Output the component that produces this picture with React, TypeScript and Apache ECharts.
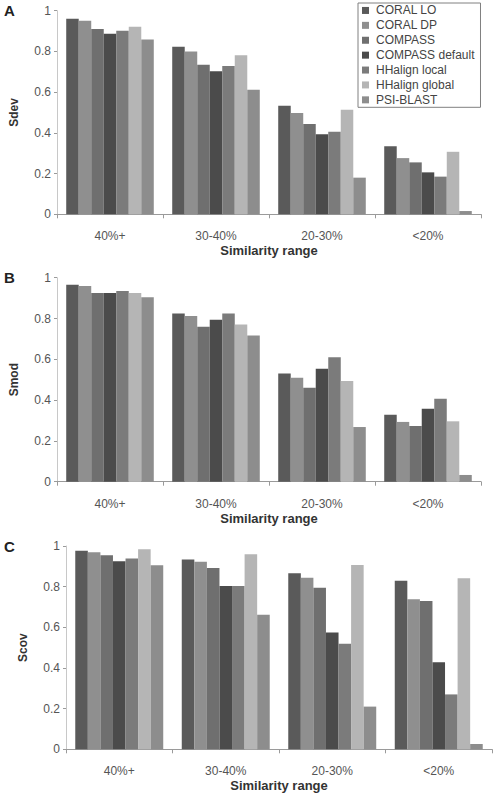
import React, { useEffect, useRef } from "react";
import * as echarts from "echarts";

const categories = ["40%+", "30-40%", "20-30%", "<20%"];
const methods = ["CORAL LO", "CORAL DP", "COMPASS", "COMPASS default", "HHalign local", "HHalign global", "PSI-BLAST"];
const methodColors = ["#5a5a5a", "#8f8f8f", "#6f6f6f", "#4b4b4b", "#7b7b7b", "#b5b5b5", "#8d8d8d"];
const yTicks = [0, 0.2, 0.4, 0.6, 0.8, 1];

// Panel A: Sdev
const sdevCoralLO = [0.961, 0.823, 0.533, 0.334];
const sdevCoralDP = [0.951, 0.799, 0.497, 0.276];
const sdevCompass = [0.91, 0.735, 0.443, 0.255];
const sdevCompassDefault = [0.887, 0.702, 0.393, 0.206];
const sdevHHLocal = [0.902, 0.728, 0.405, 0.185];
const sdevHHGlobal = [0.921, 0.781, 0.514, 0.307];
const sdevPsiBlast = [0.859, 0.612, 0.18, 0.016];

// Panel B: Smod
const smodCoralLO = [0.966, 0.825, 0.531, 0.328];
const smodCoralDP = [0.959, 0.812, 0.51, 0.293];
const smodCompass = [0.925, 0.76, 0.461, 0.273];
const smodCompassDefault = [0.925, 0.794, 0.554, 0.358];
const smodHHLocal = [0.935, 0.824, 0.61, 0.407];
const smodHHGlobal = [0.925, 0.771, 0.494, 0.296];
const smodPsiBlast = [0.904, 0.717, 0.268, 0.033];

// Panel C: Scov
const scovCoralLO = [0.977, 0.934, 0.866, 0.829];
const scovCoralDP = [0.969, 0.923, 0.844, 0.738];
const scovCompass = [0.954, 0.892, 0.795, 0.729];
const scovCompassDefault = [0.925, 0.803, 0.574, 0.428];
const scovHHLocal = [0.938, 0.803, 0.519, 0.27];
const scovHHGlobal = [0.984, 0.959, 0.907, 0.841];
const scovPsiBlast = [0.905, 0.662, 0.21, 0.026];

const panelNames = ["Sdev", "Smod", "Scov"];
const panelLetters = ["A", "B", "C"];
const panelData = [
  [sdevCoralLO, sdevCoralDP, sdevCompass, sdevCompassDefault, sdevHHLocal, sdevHHGlobal, sdevPsiBlast],
  [smodCoralLO, smodCoralDP, smodCompass, smodCompassDefault, smodHHLocal, smodHHGlobal, smodPsiBlast],
  [scovCoralLO, scovCoralDP, scovCompass, scovCompassDefault, scovHHLocal, scovHHGlobal, scovPsiBlast],
];

const FONT = "Liberation Sans";

export default function App() {
  const ref = useRef<HTMLDivElement>(null);
  useEffect(() => {
    if (!ref.current) return;
    const chart = echarts.init(ref.current, null, { renderer: "svg" });
    const grids = [
      { left: 55, top: 10.7, width: 426, height: 203.6 },
      { left: 55, top: 277.7, width: 426, height: 204 },
      { left: 66, top: 546, width: 426, height: 203.3 },
    ];
    const xAxis = grids.map((_, i) => ({
      type: "category",
      gridIndex: i,
      data: categories,
      name: "Similarity range",
      nameLocation: "middle",
      nameGap: 30,
      nameTextStyle: { fontFamily: FONT, fontWeight: "bold", fontSize: 13, color: "#333" },
      axisLine: { lineStyle: { color: "#9a9a9a", width: 1 } },
      axisTick: { show: true, length: 4, lineStyle: { color: "#9a9a9a" } },
      axisLabel: { fontFamily: FONT, fontSize: 12, color: "#555", margin: 16 },
      splitLine: { show: false },
    }));
    const yAxis = grids.map((_, i) => ({
      type: "value",
      gridIndex: i,
      min: 0,
      max: 1,
      interval: 0.2,
      name: panelNames[i],
      nameLocation: "middle",
      nameGap: 37,
      nameTextStyle: { fontFamily: FONT, fontWeight: "bold", fontSize: 12, color: "#333" },
      axisLine: { show: true, lineStyle: { color: "#c8c8c8", width: 1 } },
      axisTick: { show: true, length: 3, lineStyle: { color: "#9a9a9a" } },
      axisLabel: {
        fontFamily: FONT,
        fontSize: 12,
        color: "#555",
        margin: 6,
        formatter: (v: number) => (yTicks.includes(Math.round(v * 10) / 10) ? String(Math.round(v * 10) / 10) : ""),
      },
      splitLine: { show: false },
    }));
    const series: any[] = [];
    panelData.forEach((arrs, p) => {
      arrs.forEach((vals, m) => {
        series.push({
          type: "bar",
          name: methods[m],
          xAxisIndex: p,
          yAxisIndex: p,
          data: vals,
          barGap: "0%",
          barCategoryGap: "17.4%",
          itemStyle: { color: methodColors[m] },
          emphasis: { disabled: true },
        });
      });
    });
    chart.setOption({
      animation: false,
      backgroundColor: "#ffffff",
      grid: grids,
      xAxis,
      yAxis,
      series,
      legend: {
        data: methods,
        orient: "vertical",
        left: 358,
        top: 3,
        padding: [0, 6, 0, 4],
        itemGap: 0,
        itemWidth: 7,
        itemHeight: 7,
        icon: "rect",
        borderColor: "#808080",
        borderWidth: 1,
        selectedMode: false,
        textStyle: { fontFamily: FONT, fontSize: 12, color: "#444", lineHeight: 14.9, padding: [0, 0, 0, 2] },
      },
      graphic: panelLetters.map((t, i) => ({
        type: "text",
        left: 4,
        top: [3, 270, 539][i],
        style: { text: t, fontFamily: FONT, fontWeight: "bold", fontSize: 15, fill: "#222" },
      })),
    });
    return () => chart.dispose();
  }, []);
  return <div ref={ref} style={{ position: "absolute", left: 0, top: 0, width: 495, height: 795 }} />;
}
